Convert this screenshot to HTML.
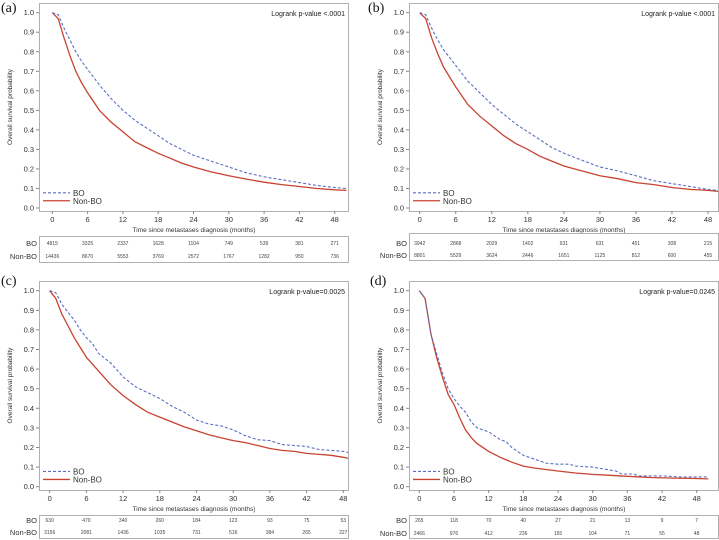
<!DOCTYPE html>
<html><head><meta charset="utf-8"><style>
html,body{margin:0;padding:0;background:#fff;}
svg{display:block;font-family:"Liberation Sans",Arial,sans-serif;}
</style></head><body>
<svg id="chart" width="719" height="540" viewBox="0 0 719 540" xmlns="http://www.w3.org/2000/svg"></svg>
<script>
// ---- data ----
const tickMonths = [0,6,12,18,24,30,36,42,48];
const yTicks = [0.0,0.1,0.2,0.3,0.4,0.5,0.6,0.7,0.8,0.9,1.0];
const panelLabels = ['(a)','(b)','(c)','(d)'];
const pValues = ['Logrank p-value <.0001','Logrank p-value <.0001','Logrank p-value=0.0025','Logrank p-value=0.0245'];

const aBOt = [0,1,2,3,4,5,6,8,10,12,14,16,18,20,22,24,27,30,33,36,39,42,45,48,50];
const aBOs = [1,0.99,0.92,0.86,0.80,0.75,0.71,0.63,0.56,0.50,0.45,0.41,0.37,0.33,0.30,0.27,0.24,0.21,0.18,0.16,0.145,0.13,0.115,0.105,0.10];
const aNBt = [0,1,2,3,4,5,6,8,10,12,14,16,18,20,22,24,27,30,33,36,39,42,45,48,50];
const aNBs = [1,0.97,0.87,0.78,0.70,0.64,0.59,0.50,0.44,0.39,0.34,0.31,0.28,0.255,0.23,0.21,0.185,0.165,0.148,0.132,0.12,0.11,0.10,0.093,0.09];

const bBOt = [0,1,2,3,4,5,6,8,10,12,14,16,18,20,22,24,27,30,33,36,39,42,45,48,50];
const bBOs = [1,0.99,0.92,0.86,0.81,0.77,0.73,0.65,0.59,0.53,0.48,0.43,0.39,0.35,0.31,0.28,0.245,0.21,0.19,0.165,0.14,0.125,0.11,0.095,0.09];
const bNBt = [0,1,2,3,4,5,6,8,10,12,14,16,18,20,22,24,27,30,33,36,39,42,45,48,50];
const bNBs = [1,0.97,0.87,0.79,0.72,0.67,0.62,0.53,0.47,0.42,0.37,0.33,0.30,0.265,0.24,0.215,0.19,0.165,0.15,0.13,0.12,0.105,0.095,0.09,0.085];

const cBOt = [0,1,2,3,4,5,6,7,8,10,12,14,16,18,20,22,24,26,28,30,32,34,36,38,40,42,44,46,48,50];
const cBOs = [1,0.99,0.93,0.89,0.85,0.80,0.76,0.73,0.68,0.63,0.56,0.51,0.48,0.45,0.41,0.38,0.34,0.32,0.31,0.29,0.26,0.24,0.235,0.215,0.21,0.205,0.19,0.185,0.18,0.175];
const cNBt = [0,1,2,3,4,5,6,8,10,12,14,16,18,20,22,24,26,28,30,32,34,36,38,40,42,44,46,48,50];
const cNBs = [1,0.96,0.88,0.82,0.76,0.71,0.66,0.59,0.52,0.465,0.42,0.38,0.355,0.33,0.305,0.285,0.265,0.25,0.235,0.225,0.21,0.195,0.185,0.18,0.17,0.165,0.16,0.15,0.145];

const dBOt = [0,1,2,3,4,5,6,7,8,9,10,12,13,14,15,16,17,18,20,22,24,26,27,30,32,34,35,37,38,42,45,48,50];
const dBOs = [1,0.96,0.78,0.68,0.58,0.50,0.45,0.41,0.38,0.33,0.30,0.28,0.26,0.24,0.23,0.20,0.18,0.16,0.14,0.12,0.115,0.115,0.105,0.10,0.09,0.08,0.065,0.065,0.055,0.055,0.05,0.05,0.05];
const dNBt = [0,1,2,3,4,5,6,7,8,9,10,12,14,16,18,20,24,27,30,33,36,40,44,48,50];
const dNBs = [1,0.96,0.78,0.66,0.56,0.47,0.42,0.35,0.29,0.25,0.22,0.18,0.15,0.125,0.105,0.095,0.08,0.07,0.063,0.058,0.053,0.047,0.044,0.042,0.04];

const aRiskBO = [4815,3325,2337,1628,1104,749,539,381,271];
const aRiskNB = [14436,8670,5553,3769,2572,1767,1282,950,736];
const bRiskBO = [3942,2868,2029,1402,931,631,451,308,215];
const bRiskNB = [8801,5529,3624,2446,1651,1125,812,600,455];
const cRiskBO = [630,470,340,260,184,123,93,75,53];
const cRiskNB = [3156,2081,1436,1035,731,516,384,265,227];
const dRiskBO = [265,118,70,40,27,21,13,9,7];
const dRiskNB = [2466,976,412,236,155,104,71,55,48];

// ---- layout (geometry only) ----
const geom = [
 {bx0:39,bx1:349,by0:3,by1:211,x0:52.3,x48:334.7,y1:12.7,y0:208,tb0:236,tb1:263,r1:243,r2:256,lx:1,ly:12},
 {bx0:409,bx1:719,by0:3,by1:211,x0:419.7,x48:708,y1:12.7,y0:208,tb0:233,tb1:261,r1:243,r2:255,lx:368,ly:12},
 {bx0:39,bx1:349,by0:281,by1:490,x0:49.7,x48:343.3,y1:290.7,y0:486.7,tb0:515,tb1:539,r1:520,r2:532,lx:1,ly:285},
 {bx0:409,bx1:719,by0:281,by1:490,x0:419.3,x48:696.7,y1:290.7,y0:486.7,tb0:515,tb1:539,r1:520,r2:533,lx:370,ly:285}
];
const series = [[aBOt,aBOs,aNBt,aNBs],[bBOt,bBOs,bNBt,bNBs],[cBOt,cBOs,cNBt,cNBs],[dBOt,dBOs,dNBt,dNBs]];
const risks = [[aRiskBO,aRiskNB],[bRiskBO,bRiskNB],[cRiskBO,cRiskNB],[dRiskBO,dRiskNB]];

const NS='http://www.w3.org/2000/svg';
const svg=document.getElementById('chart');
function mk(tag,attrs,parent,text){const e=document.createElementNS(NS,tag);for(const k in attrs)e.setAttribute(k,attrs[k]);if(text!==undefined)e.textContent=text;(parent||svg).appendChild(e);return e;}

geom.forEach((g,i)=>{
  const grp=mk('g',{});
  
  
  const xs=t=>g.x0+(g.x48-g.x0)*t/48;
  const ys=v=>g.y0+(g.y1-g.y0)*v;
  const lab=mk('text',{x:g.lx,y:g.ly,'font-family':'"Liberation Serif",serif','font-size':14,fill:'#111'},grp,panelLabels[i]);
  
  
  const box=mk('rect',{x:g.bx0+0.5,y:g.by0+0.5,width:g.bx1-g.bx0-1,height:g.by1-g.by0,fill:'none',stroke:'#b0b0b0','stroke-width':1},grp);
  
  
  yTicks.forEach(v=>{
    const y=ys(v);
    mk('line',{x1:g.bx0-3,x2:g.bx0,y1:y,y2:y,stroke:'#888'},grp);
    const t=mk('text',{x:g.bx0-5,y:y+2.5,'font-size':7.5,'text-anchor':'end',fill:'#333'},grp,v.toFixed(1));
    
    
  });
  tickMonths.forEach(m=>{
    const x=xs(m);
    mk('line',{x1:x,x2:x,y1:g.by1,y2:g.by1+3,stroke:'#888'},grp);
    const t=mk('text',{x:x,y:g.by1+11,'font-size':7.5,'text-anchor':'middle',fill:'#333'},grp,String(m));
    
    
  });
  const xt=mk('text',{x:(g.bx0+g.bx1)/2,y:g.by1+21,'font-size':6.5,'text-anchor':'middle',fill:'#333'},grp,'Time since metastases diagnosis (months)');
  
  
  const yc=(g.by0+g.by1)/2, yx=g.bx0-27;
  const yt=mk('text',{x:yx,y:yc,'font-size':6.5,'text-anchor':'middle',fill:'#333',transform:`rotate(-90 ${yx} ${yc})`},grp,'Overall survival probability');
  
  
  const pv=mk('text',{x:g.bx1-4,y:g.by0+13,'font-size':7,'text-anchor':'end',fill:'#222'},grp,pValues[i]);
  
  
  const s=series[i];
  const clipX=g.bx1-1;
  const pts=(ts,vs)=>ts.map((t,k)=>Math.min(xs(t),clipX).toFixed(1)+','+ys(vs[k]).toFixed(1)).join(' ');
  const nb=mk('polyline',{points:pts(s[2],s[3]),fill:'none',stroke:'#c8432f','stroke-width':1.3},grp);
  
  
  const bo=mk('polyline',{points:pts(s[0],s[1]),fill:'none',stroke:'#5a6fc4','stroke-width':1.1,'stroke-dasharray':'3,2'},grp);
  
  
  // legend
  const ly1=ys(0.078), ly2=ys(0.037);
  const lg=mk('g',{},grp);
  
  
  mk('line',{x1:g.bx0+4,x2:g.bx0+31,y1:ly1,y2:ly1,stroke:'#5a6fc4','stroke-width':1.1,'stroke-dasharray':'3,2'},lg);
  const l1=mk('text',{x:g.bx0+34,y:ly1+3,'font-size':8,fill:'#333'},lg,'BO');
  
  
  mk('line',{x1:g.bx0+4,x2:g.bx0+31,y1:ly2,y2:ly2,stroke:'#c8432f','stroke-width':1.3},lg);
  const l2=mk('text',{x:g.bx0+34,y:ly2+3,'font-size':8,fill:'#333'},lg,'Non-BO');
  
  
  // risk table
  const tb=mk('rect',{x:g.bx0+0.5,y:g.tb0+0.5,width:g.bx1-g.bx0-1,height:g.tb1-g.tb0-1,fill:'none',stroke:'#b0b0b0'},grp);
  
  
  const rl1=mk('text',{x:g.bx0-2,y:g.r1+3,'font-size':7.5,'text-anchor':'end',fill:'#333'},grp,'BO');
  
  
  const rl2=mk('text',{x:g.bx0-2,y:g.r2+3,'font-size':7.5,'text-anchor':'end',fill:'#333'},grp,'Non-BO');
  
  
  [[risks[i][0],g.r1],[risks[i][1],g.r2]].forEach(([row,y])=>{
    row.forEach((n,k)=>{
      const t=mk('text',{x:xs(tickMonths[k]),y:y+2,'font-size':5,'text-anchor':'middle',fill:'#444'},grp,String(n));
      
      
    });
  });
});
</script>
</body></html>
